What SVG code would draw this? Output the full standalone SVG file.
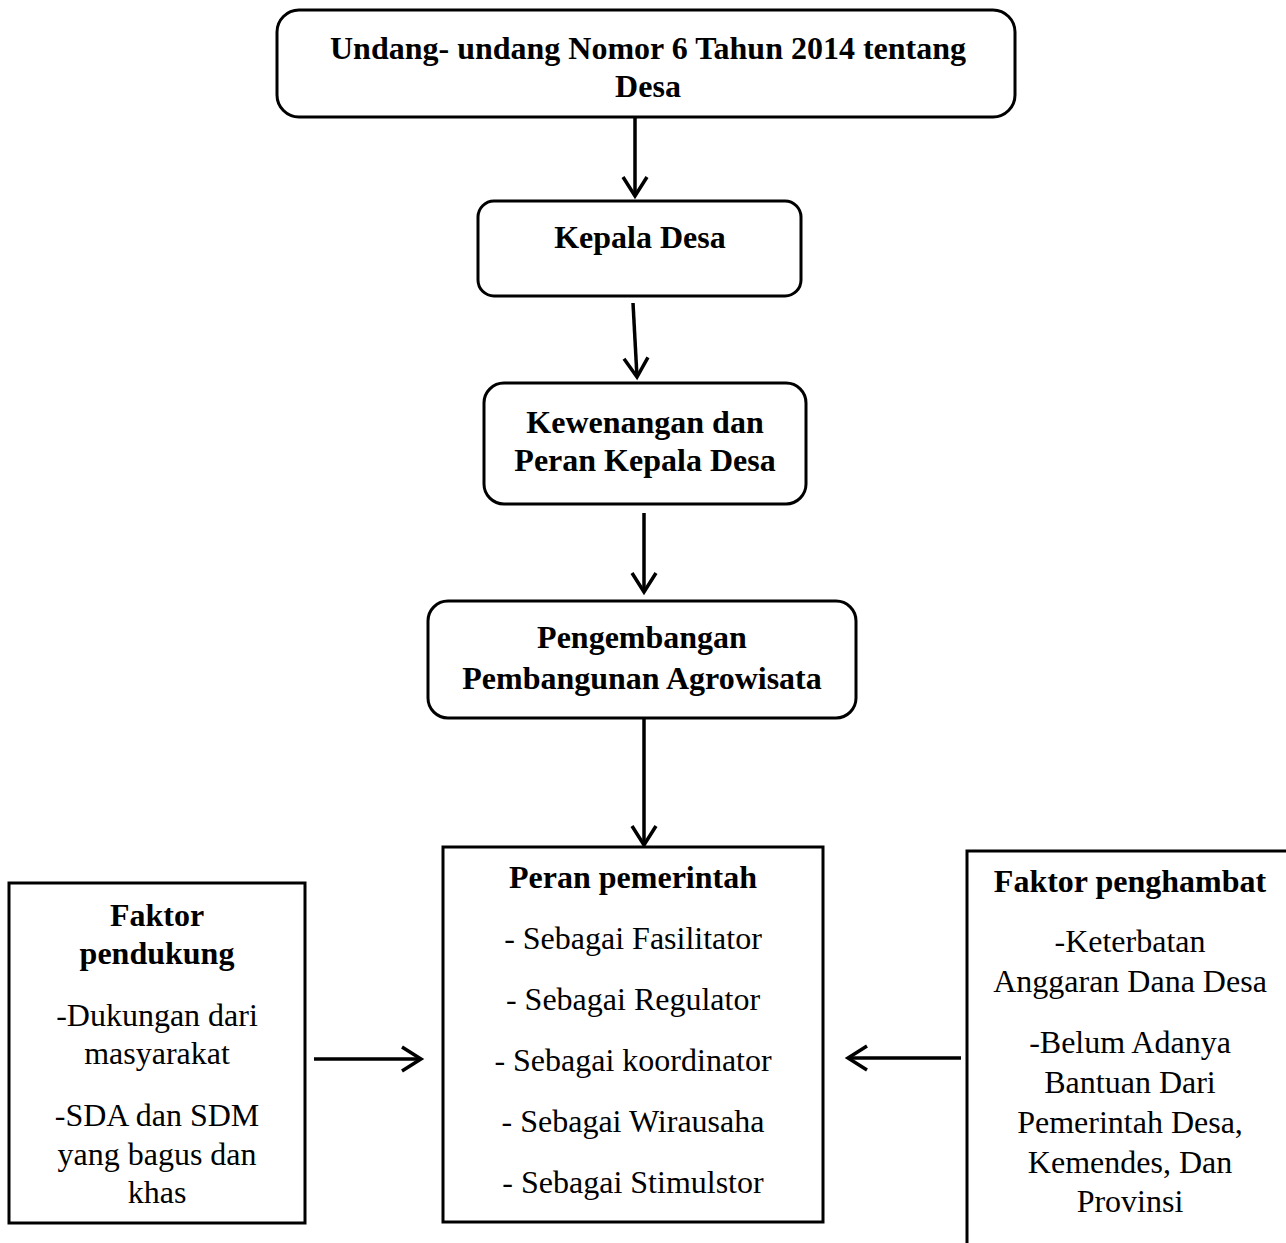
<svg xmlns="http://www.w3.org/2000/svg" width="1286" height="1243" viewBox="0 0 1286 1243">
<style>
  .box { fill: #ffffff; stroke: #000000; stroke-width: 3; }
  .conn { stroke: #000000; stroke-width: 3.5; fill: none; }
  .b { font-family: "Liberation Serif", "Times New Roman", serif; font-weight: bold; font-size: 32px; text-anchor: middle; fill: #000; }
  .r { font-family: "Liberation Serif", "Times New Roman", serif; font-size: 32px; text-anchor: middle; fill: #000; }
</style>
<defs>
  <marker id="arrow" markerUnits="userSpaceOnUse" markerWidth="40" markerHeight="40" viewBox="-25 -20 30 40" refX="0" refY="0" orient="auto">
    <path d="M-19,-12 L0,0 L-19,12" fill="none" stroke="#000" stroke-width="3.5" stroke-linejoin="miter"/>
  </marker>
</defs>
<rect width="1286" height="1243" fill="#ffffff"/>

<g id="connectors">
  <line class="conn" x1="635" y1="118" x2="635" y2="196" marker-end="url(#arrow)"/>
  <line class="conn" x1="633" y1="303" x2="637" y2="377" marker-end="url(#arrow)"/>
  <line class="conn" x1="644" y1="513" x2="644" y2="592" marker-end="url(#arrow)"/>
  <line class="conn" x1="644" y1="718" x2="644" y2="845" marker-end="url(#arrow)"/>
  <line class="conn" x1="314" y1="1059" x2="421" y2="1059" marker-end="url(#arrow)"/>
  <line class="conn" x1="961" y1="1058" x2="848" y2="1058" marker-end="url(#arrow)"/>
</g>

<g id="node-uu">
  <rect class="box" x="277" y="10" width="738" height="107" rx="22"/>
  <text class="b" x="648" y="59">Undang- undang Nomor 6 Tahun 2014 tentang</text>
  <text class="b" x="648" y="97">Desa</text>
</g>

<g id="node-kepala">
  <rect class="box" x="478" y="201" width="323" height="95" rx="16"/>
  <text class="b" x="640" y="248">Kepala Desa</text>
</g>

<g id="node-kewenangan">
  <rect class="box" x="484" y="383" width="322" height="121" rx="20"/>
  <text class="b" x="645" y="433">Kewenangan dan</text>
  <text class="b" x="645" y="471">Peran Kepala Desa</text>
</g>

<g id="node-pengembangan">
  <rect class="box" x="428" y="601" width="428" height="117" rx="20"/>
  <text class="b" x="642" y="648">Pengembangan</text>
  <text class="b" x="642" y="689">Pembangunan Agrowisata</text>
</g>

<g id="node-peran">
  <rect class="box" x="443" y="847" width="380" height="375"/>
  <text class="b" x="633" y="888">Peran pemerintah</text>
  <text class="r" x="633" y="949">- Sebagai Fasilitator</text>
  <text class="r" x="633" y="1010">- Sebagai Regulator</text>
  <text class="r" x="633" y="1071">- Sebagai koordinator</text>
  <text class="r" x="633" y="1132">- Sebagai Wirausaha</text>
  <text class="r" x="633" y="1193">- Sebagai Stimulstor</text>
</g>

<g id="node-pendukung">
  <rect class="box" x="9" y="883" width="296" height="340"/>
  <text class="b" x="157" y="926">Faktor</text>
  <text class="b" x="157" y="964">pendukung</text>
  <text class="r" x="157" y="1026">-Dukungan dari</text>
  <text class="r" x="157" y="1064">masyarakat</text>
  <text class="r" x="157" y="1126">-SDA dan SDM</text>
  <text class="r" x="157" y="1165">yang bagus dan</text>
  <text class="r" x="157" y="1203">khas</text>
</g>

<g id="node-penghambat">
  <rect class="box" x="967" y="851" width="340" height="420"/>
  <text class="b" x="1130" y="892">Faktor penghambat</text>
  <text class="r" x="1130" y="952">-Keterbatan</text>
  <text class="r" x="1130" y="992">Anggaran Dana Desa</text>
  <text class="r" x="1130" y="1053">-Belum Adanya</text>
  <text class="r" x="1130" y="1093">Bantuan Dari</text>
  <text class="r" x="1130" y="1133">Pemerintah Desa,</text>
  <text class="r" x="1130" y="1173">Kemendes, Dan</text>
  <text class="r" x="1130" y="1212">Provinsi</text>
</g>
</svg>
